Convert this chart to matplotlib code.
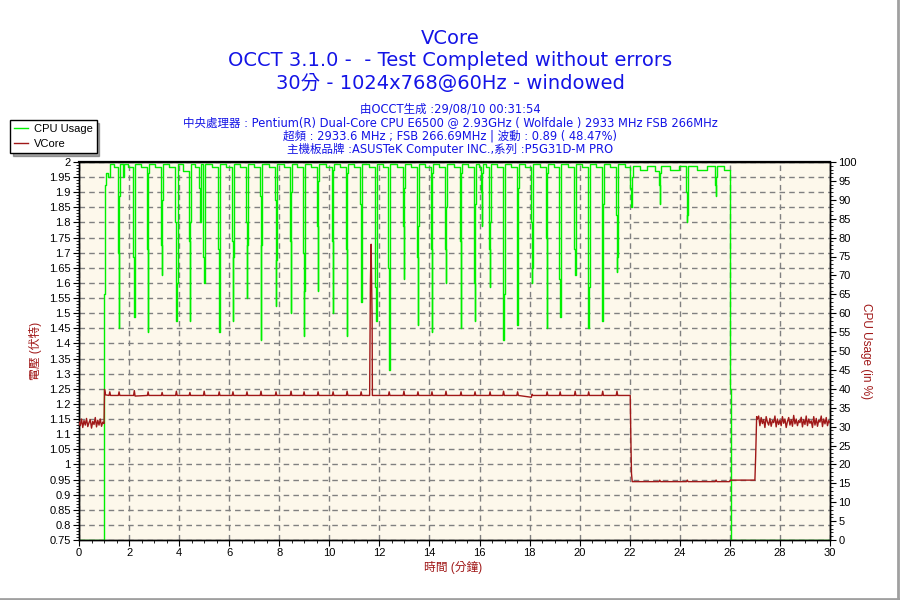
import matplotlib
matplotlib.use("Agg")
import matplotlib.pyplot as plt
from matplotlib.lines import Line2D
from matplotlib.ticker import MultipleLocator

plt.rcParams['font.family'] = ['Liberation Sans', 'Noto Sans CJK TC', 'DejaVu Sans']
TITLE_FONT = ['DejaVu Sans', 'Noto Sans CJK TC']

# CPU usage (%) samples
cpu_time = [
    0.00, 0.98, 1.03, 1.09, 1.16, 1.22, 1.38,
    1.56, 1.585, 1.615, 1.645, 1.76, 1.79, 1.95,
    2.17, 2.195, 2.225, 2.255, 2.48,
    2.72, 2.745, 2.775, 2.805, 3.05,
    3.28, 3.305, 3.335, 3.365, 3.60,
    3.85, 3.875, 3.905, 3.935, 4.15,
    4.39, 4.415, 4.445, 4.475, 4.65,
    4.80, 4.825, 4.855, 4.885,
    4.96, 4.985, 5.015, 5.045, 5.30,
    5.56, 5.585, 5.615, 5.645, 5.88,
    6.11, 6.135, 6.165, 6.195, 6.43,
    6.67, 6.695, 6.725, 6.755, 6.99,
    7.23, 7.255, 7.285, 7.315, 7.57,
    7.83, 7.855, 7.885, 7.915, 8.17,
    8.43, 8.455, 8.485, 8.515, 8.72,
    8.95, 8.975, 9.005, 9.035, 9.27,
    9.51, 9.535, 9.565, 9.595, 9.85,
    10.11, 10.135, 10.165, 10.195, 10.43,
    10.67, 10.695, 10.725, 10.755, 10.99,
    11.23, 11.255, 11.285, 11.315, 11.57,
    11.83, 11.855, 11.885, 11.915, 12.13,
    12.35, 12.375, 12.405, 12.435, 12.69,
    12.94, 12.965, 12.995, 13.025, 13.27,
    13.50, 13.525, 13.555, 13.585, 13.83,
    14.06, 14.085, 14.115, 14.145, 14.38,
    14.62, 14.645, 14.675, 14.705, 14.97,
    15.22, 15.245, 15.275, 15.305, 15.55,
    15.78, 15.805, 15.835, 15.865, 15.98,
    16.06, 16.085, 16.115, 16.145, 16.27,
    16.38, 16.405, 16.435, 16.465, 16.70,
    16.92, 16.945, 16.975, 17.005, 17.25,
    17.48, 17.505, 17.535, 17.565, 17.82,
    18.06, 18.085, 18.115, 18.145, 18.40,
    18.66, 18.685, 18.715, 18.745, 18.97,
    19.18, 19.205, 19.235, 19.265, 19.53,
    19.78, 19.805, 19.835, 19.865, 20.10,
    20.32, 20.345, 20.375, 20.405, 20.65,
    20.88, 20.905, 20.935, 20.965, 21.22,
    21.45, 21.475, 21.505, 21.535, 21.80,
    22.03, 22.055, 22.085, 22.115, 22.40, 22.70, 23.00,
    23.17, 23.195, 23.225, 23.255, 23.60, 23.95,
    24.25, 24.275, 24.305, 24.335, 24.70, 25.10,
    25.41, 25.435, 25.465, 25.495, 25.75,
    26.00, 26.02, 26.04, 30.00,
]
cpu_usage = [
    0, 65, 94, 97, 96, 99.5, 98.8,
    76, 56, 91, 99.5, 96, 99.5, 98.8,
    75, 59, 96, 99.5, 98.8,
    77, 55, 97, 99.5, 98.8,
    78, 70, 90, 99.5, 98.8,
    84, 58, 68, 99.5, 97.5,
    79, 58, 84, 99.5, 98.8,
    93, 84, 93, 99.5,
    75, 68, 90, 99.5, 98.8,
    77, 55, 97, 99.5, 98.8,
    79, 58, 75, 99.5, 98.8,
    84, 64, 78, 99.5, 98.8,
    91, 53, 78, 99.5, 98.8,
    90, 62, 74, 99.5, 98.8,
    79, 60, 92, 99.5, 98.8,
    76, 54, 66, 99.5, 98.8,
    83, 66, 95, 99.5, 98.8,
    79, 60, 98, 99.5, 98.8,
    77, 54, 97, 99.5, 98.8,
    89, 63, 72, 99.5, 98.8,
    67, 58, 84, 99.5, 98.8,
    72, 45, 84, 99.5, 98.8,
    83, 69, 93, 99.5, 98.8,
    75, 57, 83, 99.5, 98.8,
    77, 55, 97, 99.5, 98.8,
    77, 68, 88, 99.5, 98.8,
    79, 56, 97, 99.5, 98.8,
    68, 58, 89, 99.5, 98.8,
    92, 83, 97, 99.5, 98.8,
    77, 67, 84, 99.5, 98.8,
    73, 53, 65, 99.5, 98.8,
    81, 57, 93, 99.5, 98.8,
    84, 68, 72, 99.5, 98.8,
    80, 56, 97, 99.5, 98.8,
    69, 59, 89, 99.5, 98.8,
    77, 70, 84, 99.5, 98.8,
    76, 56, 67, 99.5, 98.8,
    79, 58, 89, 99.5, 98.8,
    86, 71, 75, 99.5, 98.8,
    93, 88, 96, 99, 98, 99, 97.5,
    94, 89, 97, 99, 98, 99,
    92, 84, 86, 99, 98, 99,
    94, 91, 96, 99, 98,
    90, 40, 0, 0,
]

# VCore (V) samples
vcore_time = [
    0.00, 0.05, 0.10, 0.15, 0.20, 0.25, 0.30, 0.35, 0.40, 0.45,
    0.50, 0.55, 0.60, 0.65, 0.70, 0.75, 0.80, 0.85, 0.90, 0.95,
    1.00, 1.02, 1.06, 1.20, 1.23, 1.26,
    1.57, 1.60, 1.63, 2.18, 2.21, 2.24, 2.73, 2.76, 2.79,
    3.29, 3.32, 3.35, 3.86, 3.89, 3.92, 4.40, 4.43, 4.46,
    4.97, 5.00, 5.03, 5.57, 5.60, 5.63, 6.12, 6.15, 6.18,
    6.68, 6.71, 6.74, 7.24, 7.27, 7.30, 7.84, 7.87, 7.90,
    8.44, 8.47, 8.50, 8.96, 8.99, 9.02, 9.52, 9.55, 9.58,
    10.12, 10.15, 10.18, 10.68, 10.71, 10.74, 11.24, 11.27, 11.30,
    11.61, 11.62, 11.64, 11.67, 11.69, 11.71, 11.72,
    12.36, 12.39, 12.42, 12.95, 12.98, 13.01, 13.51, 13.54, 13.57,
    14.07, 14.10, 14.13, 14.63, 14.66, 14.69, 15.23, 15.26, 15.29,
    15.79, 15.82, 15.85, 16.39, 16.42, 16.45, 16.93, 16.96, 16.99,
    17.49, 17.52, 17.55, 18.07, 18.10, 18.13, 18.67, 18.70, 18.73,
    19.19, 19.22, 19.25, 19.79, 19.82, 19.85, 20.33, 20.36, 20.39,
    20.89, 20.92, 20.95, 21.46, 21.49, 21.52,
    22.02, 22.04, 22.07, 22.10,
    23.17, 23.20, 23.23, 24.27, 24.30, 24.33, 25.42, 25.45, 25.48,
    25.98, 26.02, 27.00, 27.03, 27.07,
    27.10, 27.15, 27.20, 27.25, 27.30, 27.35, 27.40, 27.45, 27.50, 27.55,
    27.60, 27.65, 27.70, 27.75, 27.80, 27.85, 27.90, 27.95, 28.00, 28.05,
    28.10, 28.15, 28.20, 28.25, 28.30, 28.35, 28.40, 28.45, 28.50, 28.55,
    28.60, 28.65, 28.70, 28.75, 28.80, 28.85, 28.90, 28.95, 29.00, 29.05,
    29.10, 29.15, 29.20, 29.25, 29.30, 29.35, 29.40, 29.45, 29.50, 29.55,
    29.60, 29.65, 29.70, 29.75, 29.80, 29.85, 29.90, 29.95, 30.00,
]
vcore_volt = [
    1.140, 1.128, 1.150, 1.122, 1.145, 1.130, 1.152, 1.125, 1.138, 1.148,
    1.120, 1.142, 1.132, 1.155, 1.124, 1.146, 1.130, 1.150, 1.126, 1.140,
    1.135, 1.248, 1.230, 1.228, 1.240, 1.228,
    1.228, 1.240, 1.228, 1.228, 1.244, 1.226, 1.228, 1.240, 1.228,
    1.228, 1.238, 1.228, 1.228, 1.242, 1.228, 1.228, 1.238, 1.228,
    1.228, 1.242, 1.228, 1.228, 1.240, 1.228, 1.228, 1.240, 1.228,
    1.228, 1.240, 1.228, 1.228, 1.242, 1.228, 1.228, 1.240, 1.228,
    1.228, 1.242, 1.228, 1.228, 1.240, 1.228, 1.228, 1.240, 1.228,
    1.228, 1.240, 1.228, 1.228, 1.242, 1.228, 1.228, 1.240, 1.228,
    1.228, 1.350, 1.600, 1.728, 1.600, 1.474, 1.228,
    1.228, 1.240, 1.228, 1.228, 1.242, 1.228, 1.228, 1.240, 1.228,
    1.228, 1.240, 1.228, 1.228, 1.242, 1.228, 1.228, 1.240, 1.228,
    1.228, 1.240, 1.228, 1.228, 1.240, 1.228, 1.228, 1.242, 1.228,
    1.228, 1.240, 1.228, 1.222, 1.232, 1.228, 1.228, 1.240, 1.228,
    1.228, 1.240, 1.228, 1.228, 1.242, 1.228, 1.228, 1.240, 1.228,
    1.228, 1.242, 1.228, 1.228, 1.242, 1.228,
    1.228, 1.108, 0.970, 0.943,
    0.943, 0.948, 0.943, 0.943, 0.948, 0.943, 0.943, 0.948, 0.943,
    0.943, 0.948, 0.948, 1.025, 1.158,
    1.150, 1.160, 1.128, 1.155, 1.135, 1.148, 1.122, 1.158, 1.140, 1.130,
    1.152, 1.126, 1.145, 1.138, 1.160, 1.124, 1.150, 1.132, 1.146, 1.128,
    1.158, 1.136, 1.150, 1.122, 1.142, 1.155, 1.130, 1.148, 1.126, 1.162,
    1.134, 1.150, 1.128, 1.145, 1.138, 1.156, 1.124, 1.148, 1.132, 1.160,
    1.128, 1.150, 1.136, 1.144, 1.122, 1.158, 1.130, 1.152, 1.126, 1.146,
    1.140, 1.160, 1.125, 1.150, 1.134, 1.155, 1.128, 1.145, 1.138,
]

title_lines = ["VCore",
               "OCCT 3.1.0 -  - Test Completed without errors",
               "30分 - 1024x768@60Hz - windowed"]
info_lines = ["由OCCT生成 :29/08/10 00:31:54",
              "中央處理器 : Pentium(R) Dual-Core CPU E6500 @ 2.93GHz ( Wolfdale ) 2933 MHz FSB 266MHz",
              "超頻 : 2933.6 MHz ; FSB 266.69MHz | 波動 : 0.89 ( 48.47%)",
              "主機板品牌 :ASUSTeK Computer INC.,系列 :P5G31D-M PRO"]

BLUE = '#1414E6'
DARKRED = '#A01818'
GREEN = '#00F000'

W, H = 900, 600
fig = plt.figure(figsize=(9, 6), dpi=100)
fig.patch.set_facecolor('white')

ax = fig.add_axes([79 / W, 1 - 540 / H, 751 / W, 378 / H])
ax.set_facecolor('#FDF8EB')
ax.set_xlim(0, 30)
ax.set_ylim(0.75, 2.0)
ax.xaxis.set_major_locator(MultipleLocator(2))
ax.xaxis.set_minor_locator(MultipleLocator(0.5))
ax.yaxis.set_major_locator(MultipleLocator(0.05))
ax.yaxis.set_minor_locator(MultipleLocator(0.01))
ax.yaxis.set_major_formatter(plt.FuncFormatter(lambda v, p: f"{v:g}"))
ax.grid(True, which='major', color='#808080', linestyle=(0, (4, 3)), linewidth=1)
ax.tick_params(which='major', length=4, labelsize=8, pad=2)
ax.tick_params(which='minor', length=2)

ax2 = ax.twinx()
ax2.set_ylim(0, 100)
ax2.yaxis.set_major_locator(MultipleLocator(5))
ax2.yaxis.set_minor_locator(MultipleLocator(1))
ax2.tick_params(which='major', length=4, labelsize=8, pad=2)
ax2.tick_params(which='minor', length=2)
cpu_line, = ax2.plot(cpu_time, cpu_usage, color=GREEN, lw=1.0, drawstyle='steps-post')

ax3 = ax.twinx()
ax3.set_ylim(0.75, 2.0)
ax3.set_axis_off()
vcore_line, = ax3.plot(vcore_time, vcore_volt, color=DARKRED, lw=1.0)

for a in (ax, ax2):
    for s in a.spines.values():
        s.set_color('black')
        s.set_linewidth(1.0)
ax2.spines['top'].set_linewidth(1.6)

# titles
for i, txt in enumerate(title_lines):
    fig.text(450 / W, 1 - (38 + 23 * i) / H, txt, ha='center', va='center',
             fontsize=14, color=BLUE, family=TITLE_FONT)
for i, txt in enumerate(info_lines):
    fig.text(450 / W, 1 - (109.5 + 13.4 * i) / H, txt, ha='center', va='center',
             fontsize=8.3, color=BLUE, family=TITLE_FONT)

fig.text(35 / W, 1 - 351 / H, "電壓 (伏特)", rotation=90, ha='center', va='center',
         fontsize=8.5, color=DARKRED)
fig.text(866 / W, 1 - 351 / H, "CPU Usage (in %)", rotation=270, ha='center', va='center',
         fontsize=8.5, color=DARKRED)
fig.text(453 / W, 1 - 567 / H, "時間 (分鐘)", ha='center', va='center',
         fontsize=8.5, color=DARKRED)

fig.legend([Line2D([], [], color=GREEN, lw=1), Line2D([], [], color=DARKRED, lw=1)],
           ["CPU Usage", "VCore"], loc='upper left', bbox_to_anchor=(10 / W, 1 - 120 / H),
           fontsize=8, frameon=True, fancybox=False, shadow=True, edgecolor='black',
           framealpha=1, handlelength=1.3, handletextpad=0.5, borderpad=0.35,
           labelspacing=0.45, borderaxespad=0)

# window frame at right and bottom
fig.add_artist(Line2D([0, 1], [0.002, 0.002], transform=fig.transFigure, color='#A0A0A0', lw=2))
fig.add_artist(Line2D([0.998, 0.998], [0, 1], transform=fig.transFigure, color='#A0A0A0', lw=2))

fig.savefig("out.png", dpi=100)
